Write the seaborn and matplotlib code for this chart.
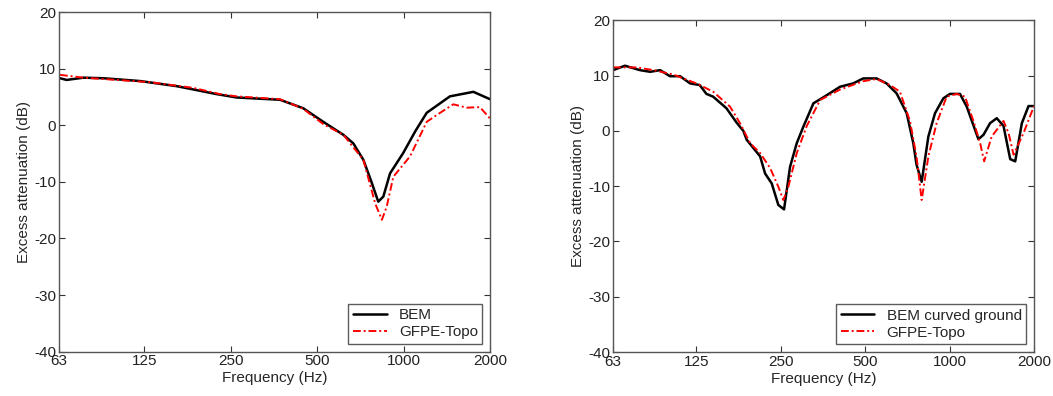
"""
Excess attenuation: BEM vs GFPE-Topo, two ground cases
"""

import matplotlib
matplotlib.use("Agg")
import matplotlib.pyplot as plt
import pandas as pd
import seaborn as sns

sns.set_style("ticks")
plt.rcParams["font.family"] = ["Liberation Sans", "DejaVu Sans"]
plt.rcParams["axes.unicode_minus"] = False

# left panel (flat ground)
freq_bem_a = [63.5, 67, 76.6, 90, 121, 162, 223, 262, 371, 447, 525, 617, 668,
              724, 770, 816, 850, 897, 997, 1100, 1204, 1450, 1750, 2000]
att_bem_a = [8.3, 8.0, 8.4, 8.3, 7.8, 6.9, 5.5, 4.9, 4.5, 3.0, 0.6, -1.7, -3.2,
             -6.1, -9.8, -13.5, -12.6, -8.5, -4.9, -1.0, 2.2, 5.1, 5.9, 4.6]
freq_gfpe_a = [63.5, 76.6, 100, 131, 185, 229, 262, 371, 447, 525, 617, 724,
               796, 840, 873, 921, 1053, 1204, 1304, 1489, 1659, 1844, 2000]
att_gfpe_a = [8.9, 8.4, 8.0, 7.6, 6.6, 5.5, 5.1, 4.6, 2.9, 0.2, -1.7, -6.1,
              -13.8, -16.7, -14.4, -9.1, -5.5, 0.6, 1.8, 3.7, 3.1, 3.2, 1.2]

# right panel (curved ground)
freq_bem_b = [63, 69.5, 78.6, 85.5, 92.8, 100.6, 109.3, 118.7, 128.4, 135.7,
              143.4, 160, 173.9, 183.8, 188.9, 199.6, 210.9, 219.7, 232, 245,
              256.7, 269.7, 285, 301, 326.8, 355, 407, 453, 492, 549, 596, 647,
              703, 742, 762, 795, 840, 887, 950, 1003, 1089, 1151, 1267, 1321,
              1394, 1473, 1557, 1645, 1714, 1810, 1912, 2000]
att_bem_b = [11.0, 11.8, 11.0, 10.7, 11.0, 9.9, 9.9, 8.6, 8.3, 6.7,
             6.2, 4.1, 1.5, 0.0, -1.6, -3.1, -4.6, -7.7, -9.5, -13.4,
             -14.2, -6.5, -2.2, 0.8, 5.0, 6.1, 8.0, 8.6, 9.5, 9.5, 8.6, 6.8,
             3.2, -2.2, -6.1, -9.2, -1.0, 3.2, 5.9, 6.7, 6.7, 4.4, -1.5, -0.7,
             1.4, 2.3, 0.9, -5.1, -5.5, 1.4, 4.5, 4.5]
freq_gfpe_b = [63, 76.5, 87.9, 103.4, 125, 143.4, 164.7, 178.8, 194.2, 210.9,
               228.9, 245, 255.2, 266, 285, 309.4, 345.4, 407, 492, 549, 613,
               665, 722, 762, 795, 840, 899, 976, 1060, 1135, 1216, 1285, 1328,
               1413, 1557, 1623, 1691, 1835, 2000]
att_gfpe_b = [11.5, 11.5, 11.0, 10.2, 8.6, 7.1, 4.4, 1.4, -2.2, -4.0,
              -6.7, -10.1, -12.5, -10.1, -4.0, 0.9, 5.6, 7.5, 9.0, 9.4, 8.3,
              7.1, 1.8, -4.6, -12.5, -4.6, 1.4, 6.2, 6.7, 6.2, 1.8, -2.2, -5.5,
              -1.0, 1.8, -0.4, -4.3, -0.4, 4.5]

tick_freqs = [63, 125, 250, 500, 1000, 2000]

panels = [
    ("BEM", freq_bem_a, att_bem_a, freq_gfpe_a, att_gfpe_a,
     [59 / 1053, 1 - 351.7 / 396, 431 / 1053, 339.7 / 396]),
    ("BEM curved ground", freq_bem_b, att_bem_b, freq_gfpe_b, att_gfpe_b,
     [613 / 1053, 1 - 352 / 396, 421 / 1053, 331.6 / 396]),
]

fig = plt.figure(figsize=(10.53, 3.96), dpi=100)

for bem_label, fb, ab, fg, ag, rect in panels:
    ax = fig.add_axes(rect)
    df_b = pd.DataFrame({"f": fb, "att": ab})
    df_g = pd.DataFrame({"f": fg, "att": ag})
    sns.lineplot(data=df_b, x="f", y="att", ax=ax, color="black", lw=1.8,
                 label=bem_label, sort=False)
    sns.lineplot(data=df_g, x="f", y="att", ax=ax, color="red", lw=1.4,
                 linestyle=(0, (4, 1.5, 1, 1.5)), label="GFPE-Topo", sort=False)

    ax.set_xscale("log")
    ax.set_xlim(63, 2000)
    ax.set_ylim(-40, 20)
    ax.set_xticks(tick_freqs)
    ax.set_xticklabels([str(t) for t in tick_freqs])
    ax.minorticks_off()
    ax.set_yticks(range(-40, 21, 10))
    ax.tick_params(direction="in", top=True, right=True, length=4, pad=2,
                   labelsize=11, colors="#333333", labelcolor="#222222")
    for s in ax.spines.values():
        s.set_color("#555555")
        s.set_linewidth(1.0)

    ax.set_xlabel("Frequency (Hz)", fontsize=11, labelpad=2)
    ax.set_ylabel("Excess attenuation (dB)", fontsize=11, labelpad=2)

    leg = ax.legend(loc="lower right", fontsize=11, frameon=True, fancybox=False,
                    handlelength=2.2, borderaxespad=0.5, labelspacing=0.2,
                    borderpad=0.3)
    leg.get_frame().set_edgecolor("#333333")
    leg.get_frame().set_linewidth(1.0)

plt.savefig("out.png", dpi=100)
